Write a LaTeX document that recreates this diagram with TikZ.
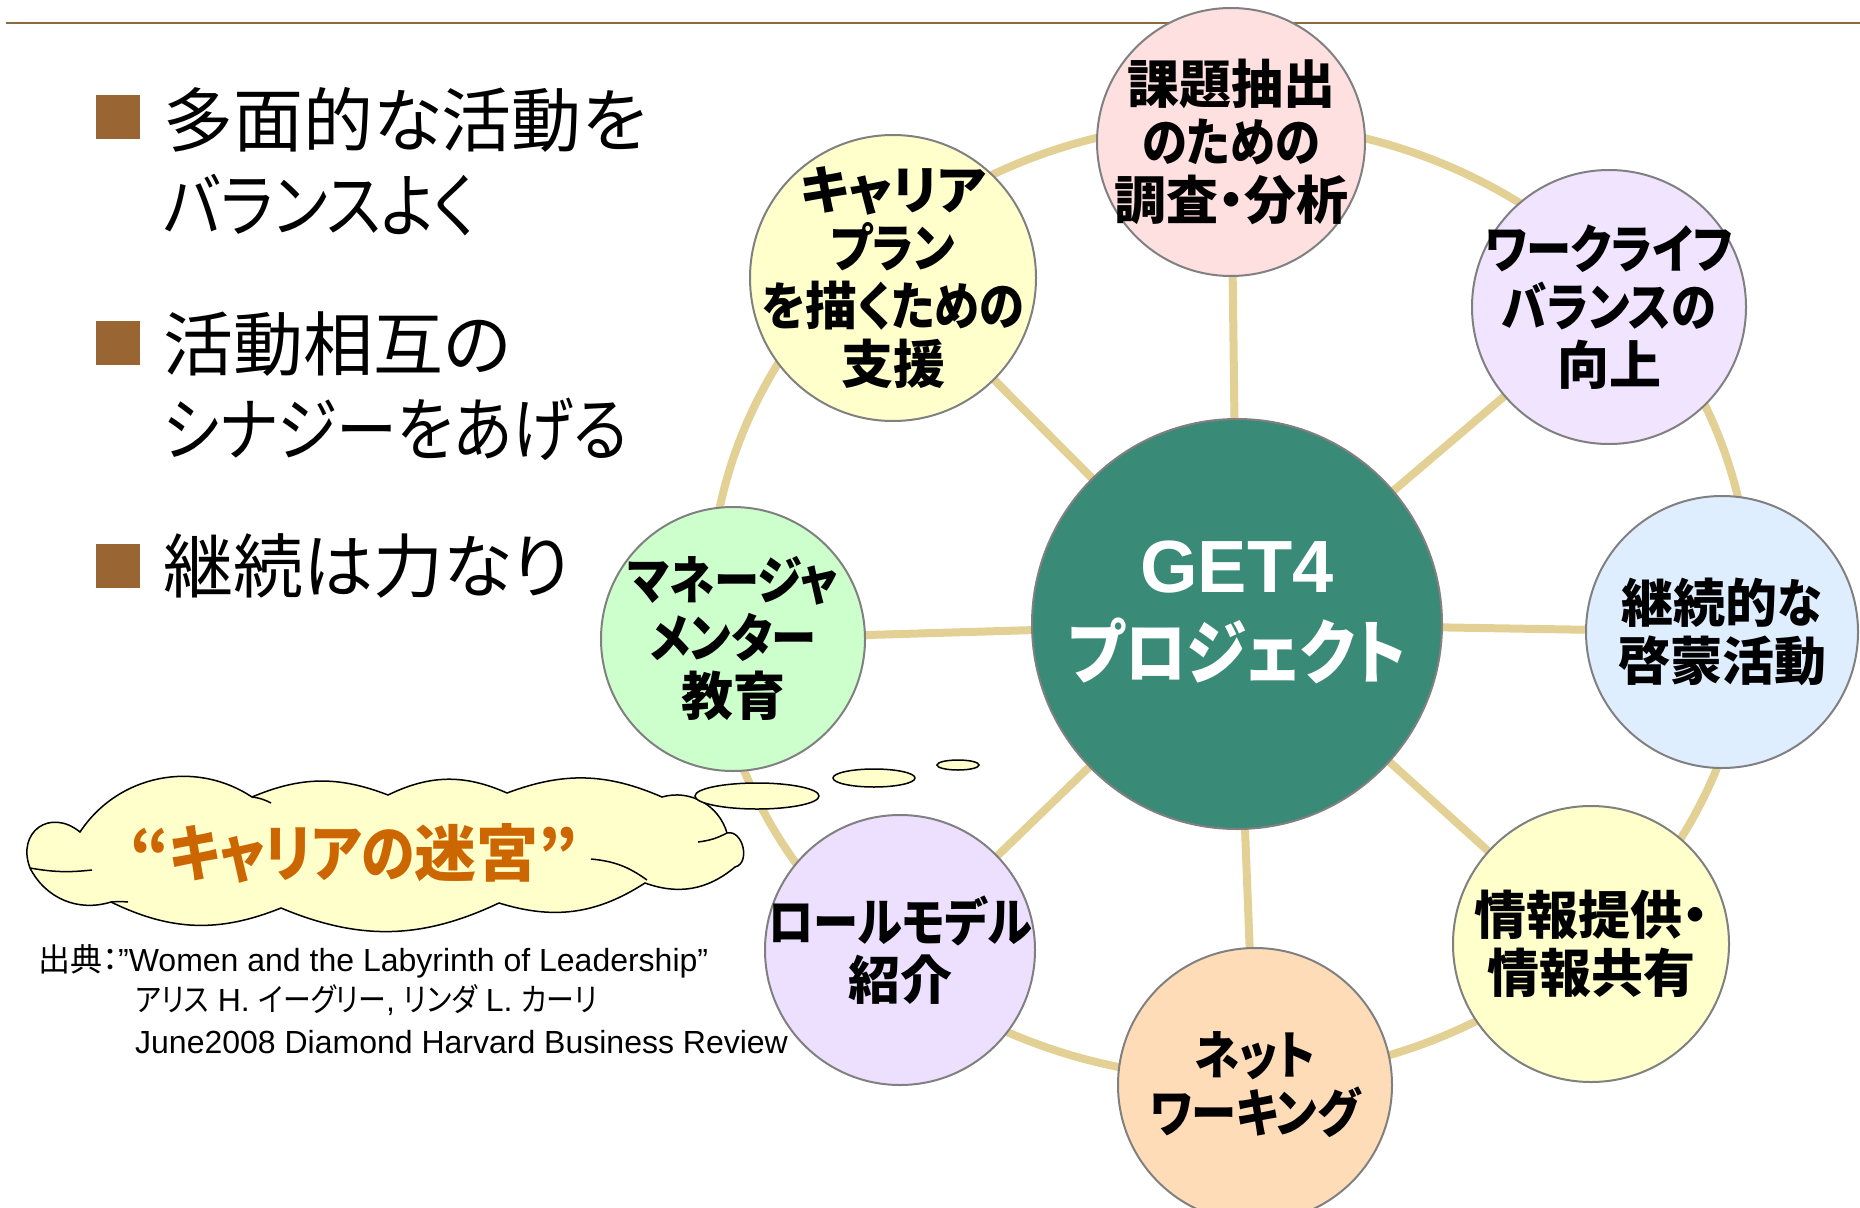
\documentclass[tikz,border=0pt]{standalone}
\usepackage{fontspec}
\setmainfont{Liberation Sans}
\newfontfamily\jpfont{Noto Sans CJK JP}[RawFeature=+palt]
\newfontfamily\kanafont{Noto Sans CJK JP}[RawFeature=+palt,FakeStretch=0.87]
\newcommand\kana[1]{{\kanafont#1}}
\usetikzlibrary{backgrounds}
\definecolor{ringtan}{HTML}{E2D094}
\definecolor{edgegray}{HTML}{808080}
\definecolor{tealfill}{HTML}{3A8A78}
\definecolor{pinkfill}{HTML}{FFE0E0}
\definecolor{lilacfill}{HTML}{F0E4FF}
\definecolor{bluefill}{HTML}{DFEEFF}
\definecolor{creamfill}{HTML}{FFFFCC}
\definecolor{peachfill}{HTML}{FFDCB8}
\definecolor{mauvefill}{HTML}{EDE0FF}
\definecolor{mintfill}{HTML}{CCFFCC}
\definecolor{mazeorange}{HTML}{CC6600}
\definecolor{bulletbrown}{HTML}{996633}
\definecolor{rulebrown}{HTML}{8C6A40}

\begin{document}
\begin{tikzpicture}[x=1pt,y=-1pt,
        topic/.style={circle,draw=edgegray,line width=2pt,inner sep=0pt,fill=#1},
        topictext/.style={align=center,inner sep=0pt,text=black,font=\jpfont\bfseries\fontsize{52}{58}\selectfont},
        spoke/.style={draw=ringtan,line width=8pt},
        bulletsq/.style={fill=bulletbrown,minimum size=44pt,inner sep=0pt},
        point/.style={anchor=west,inner sep=0pt,align=left,font=\jpfont\fontsize{70}{85}\selectfont},
        bubble/.style={draw=black,line width=1.5pt,fill=creamfill},
        cite/.style={anchor=base west,inner sep=0pt,font=\fontsize{32}{36}\selectfont}]
        \useasboundingbox (0,0) rectangle (1860,1207);
        \draw[rulebrown,line width=2.5pt] (6,23) -- (1860,23);

        \node[bulletsq] (b1) at (118,117) {};
        \node[bulletsq] (b2) at (118,343) {};
        \node[bulletsq] (b3) at (118,566) {};
        \node[point] (p1) at (163,162) {多面的な活動を\\\kana{バランスよく}};
        \node[point] (p2) at (163,386) {活動相互の\\\kana{シナジーをあげる}};
        \node[point] (p3) at (163,566) {継続は力なり};

        \node[topic=tealfill,minimum size=410pt,
        label={[topictext,text=white,yshift=12pt,font=\jpfont\bfseries\fontsize{74}{86}\selectfont]center:{\rmfamily GET4}\\{\fontsize{70}{86}\selectfont\kana{プロジェクト}}}] (get) at (1237,624) {};
        \node[topic=pinkfill,minimum size=268pt,label={[topictext]center:課題抽出\\\kana{のための}\\調査・分析}] (survey) at (1231,142) {};
        \node[topic=lilacfill,minimum size=274pt,label={[topictext]center:\kana{ワークライフ}\\\kana{バランスの}\\向上}] (balance) at (1609,307) {};
        \node[topic=bluefill,minimum size=272pt,label={[topictext]center:継続的\kana{な}\\啓蒙活動}] (enlighten) at (1722,632) {};
        \node[topic=creamfill,minimum size=276pt,label={[topictext]center:情報提供・\\情報共有}] (share) at (1591,944) {};
        \node[topic=peachfill,minimum size=274pt,label={[topictext]center:\kana{ネット}\\\kana{ワーキング}}] (network) at (1255,1085) {};
        \node[topic=mauvefill,minimum size=270pt,label={[topictext]center:\kana{ロールモデル}\\紹介}] (rolemodel) at (900,950) {};
        \node[topic=mintfill,minimum size=264pt,label={[topictext]center:\kana{マネージャ}\\\kana{メンター}\\教育}] (mentor) at (733,639) {};
        \node[topic=creamfill,minimum size=286pt,label={[topictext]center:キャリア\\\kana{プラン}\\\kana{を}描\kana{くための}\\支援}] (career) at (893,278) {};

        \begin{pgfonlayer}{background}
        \draw[ringtan,line width=8pt] (1230,600) ellipse [x radius=520pt,y radius=478pt];
        \draw[spoke] (get.center) -- (survey.center);
        \draw[spoke] (get.center) -- (balance.center);
        \draw[spoke] (get.center) -- (enlighten.center);
        \draw[spoke] (get.center) -- (share.center);
        \draw[spoke] (get.center) -- (network.center);
        \draw[spoke] (get.center) -- (rolemodel.center);
        \draw[spoke] (get.center) -- (mentor.center);
        \draw[spoke] (get.center) -- (career.center);
        \end{pgfonlayer}

        \draw[bubble] (80,832) to[bend left=45] (252,797) to[bend left=22] (388,795) to[bend left=25] (507,793)
        to[bend left=22] (662,797) to[bend left=45] (727,833) to[bend left=90,looseness=1.2] (735,867)
        to[bend left=30] (645,883) to[bend left=25] (499,903) to[bend left=24] (281,908) to[bend left=24] (111,902)
        to[bend left=40] (30,868) to[bend left=75,looseness=1.6] (80,832) -- cycle;
        \draw[line width=1.5pt] (30,868) to[bend right=8] (92,870);
        \draw[line width=1.5pt] (111,902) to[bend left=5] (128,902);
        \draw[line width=1.5pt] (252,797) to[bend left=10] (271,803);
        \draw[line width=1.5pt] (591,859) to[bend left=15] (647,880);
        \draw[line width=1.5pt] (698,842) to[bend right=10] (727,833);
        \node[text=mazeorange,font=\jpfont\bfseries\fontsize{62}{70}\selectfont] (maze) at (354,853) {“\kana{キャリアの}迷宮”};
        \draw[bubble] (757,796) ellipse [x radius=62pt,y radius=13pt];
        \draw[bubble] (874,778) ellipse [x radius=41pt,y radius=9pt];
        \draw[bubble] (958,765) ellipse [x radius=21pt,y radius=5pt];

        \node[cite] (src1) at (38,971) {{\jpfont 出典：}”Women and the Labyrinth of Leadership”};
        \node[cite] (src2) at (135,1011) {{\kanafont アリス} H. {\kanafont イーグリー}, {\kanafont リンダ} L. {\kanafont カーリ}};
        \node[cite] (src3) at (135,1053) {June2008 Diamond Harvard Business Review};
    \end{tikzpicture}
\end{document}
